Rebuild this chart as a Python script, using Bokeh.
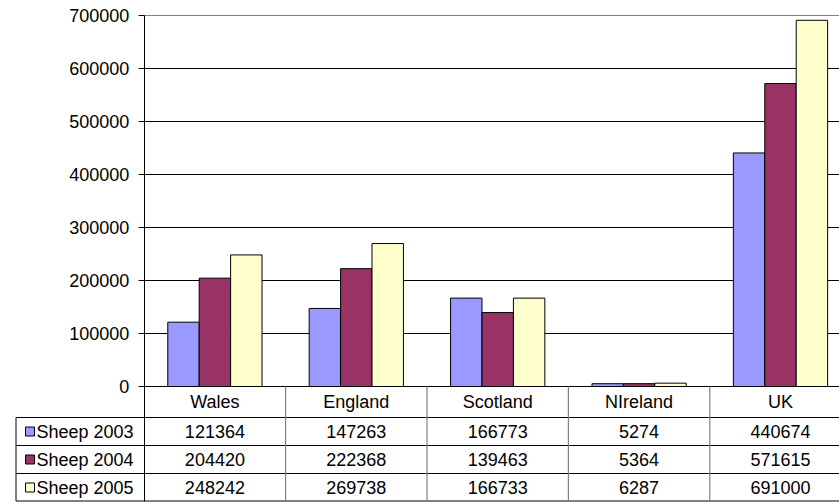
from bokeh.plotting import figure
from bokeh.models import Range1d, LinearAxis, FixedTicker, BasicTickFormatter
from bokeh.core.properties import value
from bokeh.embed import file_html
from bokeh.resources import INLINE

# ---------------- data ----------------
categories = ["Wales", "England", "Scotland", "NIreland", "UK"]
series_names = ["Sheep 2003", "Sheep 2004", "Sheep 2005"]
sheep_2003 = [121364, 147263, 166773, 5274, 440674]
sheep_2004 = [204420, 222368, 139463, 5364, 571615]
sheep_2005 = [248242, 269738, 166733, 6287, 691000]
y_ticks = [0, 100000, 200000, 300000, 400000, 500000, 600000, 700000]

series_values = [sheep_2003, sheep_2004, sheep_2005]
colors = ["#9999FF", "#993366", "#FFFFCC"]

# ---------------- layout (pixel geometry of the picture) ----------------
W, H = 839, 503
ORIGIN = 0          # where the canvas lands in the picture
AXIS_X = 143.7      # x of the value axis
CAT_W = 141.4       # pixel width of one category
ZERO_Y = 386.0      # y of value 0
TOP_Y = 15.0        # y of max tick
YMAX = y_ticks[-1]
PX_PER_VAL = (ZERO_Y - TOP_Y) / YMAX


def dx(px):
    return (px - AXIS_X) / CAT_W


def dy(py):
    return (ZERO_Y - py) / PX_PER_VAL


x_start, x_end = dx(ORIGIN), dx(ORIGIN + W)
y_start, y_end = dy(ORIGIN + H), dy(ORIGIN)

FONT = value("Liberation Sans")
FS = "18px"

p = figure(width=W, height=H, output_backend="svg", toolbar_location=None,
           x_range=Range1d(x_start, x_end), y_range=Range1d(y_start, y_end),
           x_axis_location=None, y_axis_location=None, min_border=0,
           outline_line_color=None, background_fill_color="white",
           border_fill_color="white")
p.grid.visible = False

# gridlines
grid_colors = ["black"] * (len(y_ticks) - 1) + ["#808080"]
p.segment(x0=[0] * len(y_ticks), x1=[x_end + 1] * len(y_ticks),
          y0=y_ticks, y1=y_ticks, line_color=grid_colors, line_width=1)

# bars
n_series = len(series_values)
bw = 1.0 / (n_series + 1.5)
for i, (vals, col) in enumerate(zip(series_values, colors)):
    xs = [c + 0.5 + (i - (n_series - 1) / 2) * bw for c in range(len(categories))]
    p.vbar(x=xs, top=vals, bottom=0, width=bw, fill_color=col,
           line_color="black", line_width=1)

# ---------------- data table ----------------
HEADER_H = 31
ROW_H = 28
row_tops = [ZERO_Y + HEADER_H + k * ROW_H for k in range(n_series + 1)]
table_bottom = row_tops[-1] - 0.5
legend_left = 15.5

# horizontal table lines
hl_y = [dy(y) for y in row_tops[:-1]] + [dy(table_bottom)]
p.segment(x0=[dx(legend_left)] * len(hl_y), x1=[x_end + 1] * len(hl_y),
          y0=hl_y, y1=hl_y, line_color="black", line_width=1)
# legend column left border
p.segment(x0=[dx(legend_left)], x1=[dx(legend_left)],
          y0=[dy(row_tops[0])], y1=[dy(table_bottom)], line_color="black", line_width=1)
# category separators
seps = list(range(1, len(categories) + 1))
p.segment(x0=seps, x1=seps, y0=[0] * len(seps), y1=[dy(table_bottom)] * len(seps),
          line_color="#808080", line_width=1.2)

# header texts
cat_x = [c + 0.5 for c in range(len(categories))]
p.text(x=cat_x, y=[dy(ZERO_Y + HEADER_H / 2)] * len(categories), text=categories,
       text_font=FONT, text_font_size=FS, text_align="center",
       text_baseline="middle", text_color="black")

# values & legend
for k, (name, vals, col) in enumerate(zip(series_names, series_values, colors)):
    yc = dy(row_tops[k] + ROW_H / 2)
    p.text(x=cat_x, y=[yc] * len(vals), text=[str(v) for v in vals],
           text_font=FONT, text_font_size=FS, text_align="center",
           text_baseline="middle", text_color="black")
    p.scatter(x=[dx(29.5)], y=[yc], marker="square", size=9,
              fill_color=col, line_color="black", line_width=1)
    p.text(x=[dx(36.0)], y=[yc], text=[name], text_font=FONT, text_font_size=FS,
           text_align="left", text_baseline="middle", text_color="black")

# value axis
yaxis = LinearAxis(fixed_location=0,
                   ticker=FixedTicker(ticks=y_ticks),
                   formatter=BasicTickFormatter(use_scientific=False),
                   bounds=(dy(table_bottom), YMAX),
                   axis_line_color="black", axis_line_width=1,
                   major_tick_out=6, major_tick_in=0,
                   minor_tick_out=0, minor_tick_in=0,
                   major_tick_line_color="black",
                   major_label_text_font="Liberation Sans",
                   major_label_text_font_size=FS,
                   major_label_text_color="black",
                   major_label_standoff=9)
p.add_layout(yaxis, "left")

open("out.html", "w").write(file_html(p, INLINE))
